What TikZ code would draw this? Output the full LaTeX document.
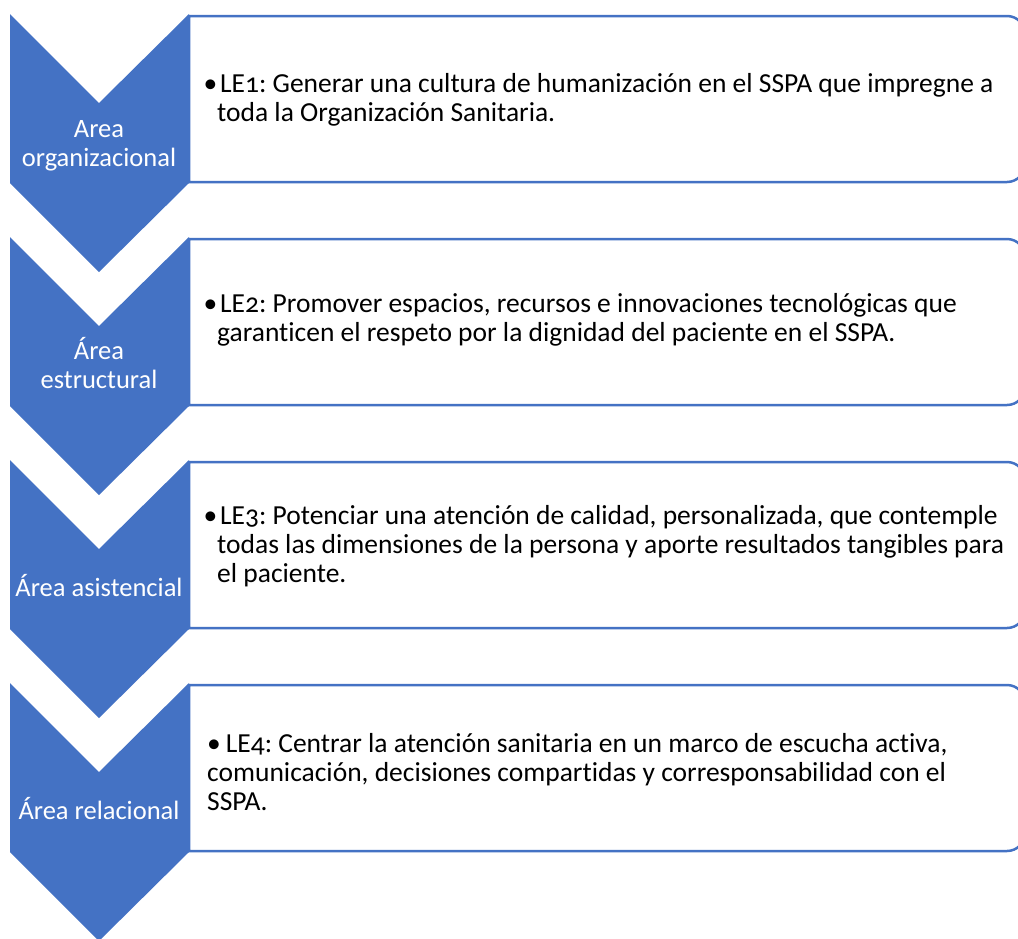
\documentclass[tikz,border=0pt]{standalone}
\usepackage{fontspec}
\setmainfont{Carlito}[Ligatures=NoCommon]
\newfontfamily\lefont{Carlito}[Numbers=OldStyle, Ligatures=NoCommon]
\usepackage{xcolor}
\definecolor{areablue}{RGB}{68,114,196}
\frenchspacing
\tikzset{
  chevron/.style={fill=areablue},
  lebox/.style={draw=areablue, line width=2.5pt, fill=white},
  arealabel/.style={text=white, align=center, inner sep=0pt, font=\fontsize{26.5}{29}\selectfont},
  letext/.style={anchor=west, align=left, inner sep=0pt, font=\lefont\fontsize{27.5}{29}\selectfont},
}

\begin{document}
\begin{tikzpicture}[x=1pt, y=-1pt]
        \clip (0,0) rectangle (1018,938);

        % Draw the boxes on the right
        \draw[lebox] (189,16) -- (1007,16) arc (-90:0:18) -- (1025,164) arc (0:90:18) -- (189,182) -- cycle;
        \draw[lebox] (189,239) -- (1007,239) arc (-90:0:18) -- (1025,387) arc (0:90:18) -- (189,405) -- cycle;
        \draw[lebox] (189,462) -- (1007,462) arc (-90:0:18) -- (1025,610) arc (0:90:18) -- (189,628) -- cycle;
        \draw[lebox] (189,685) -- (1007,685) arc (-90:0:18) -- (1025,833) arc (0:90:18) -- (189,851) -- cycle;

        % Draw the chevrons
        \fill[chevron] (10,14)  -- (99,103) -- (189,14)  -- (189,183) -- (99,272) -- (10,183) -- cycle;
        \fill[chevron] (10,237) -- (99,326) -- (189,237) -- (189,406) -- (99,495) -- (10,406) -- cycle;
        \fill[chevron] (10,460) -- (99,549) -- (189,460) -- (189,629) -- (99,718) -- (10,629) -- cycle;
        \fill[chevron] (10,683) -- (99,772) -- (189,683) -- (189,852) -- (99,941) -- (10,852) -- cycle;

        % Label the chevrons
        \node[arealabel] (area1) at (99,145.5) {Area\\organizacional};
        \node[arealabel] (area2) at (99,363.5) {Área\\estructural};
        \node[arealabel] (area3) at (99,586) {Área asistencial};
        \node[arealabel] (area4) at (99,809) {Área relacional};

        % Fill in the boxes
        \node[letext] (le1) at (217,100)
          {\llap{\textbullet}\hspace{3pt}LE1: Generar una cultura de humanización en el SSPA que impregne a\\
           toda la Organización Sanitaria.};
        \node[letext] (le2) at (217,320)
          {\llap{\textbullet}\hspace{3pt}LE2: Promover espacios, recursos e innovaciones tecnológicas que\\
           garanticen el respeto por la dignidad del paciente en el SSPA.};
        \node[letext] (le3) at (217,546)
          {\llap{\textbullet}\hspace{3pt}LE3: Potenciar una atención de calidad, personalizada, que contemple\\
           todas las dimensiones de la persona y aporte resultados tangibles para\\
           el paciente.};
        \node[letext] (le4) at (207,772)
          {\textbullet\hspace{5pt}LE4: Centrar la atención sanitaria en un marco de escucha activa,\\
           comunicación, decisiones compartidas y corresponsabilidad con el\\
           SSPA.};
\end{tikzpicture}
\end{document}
